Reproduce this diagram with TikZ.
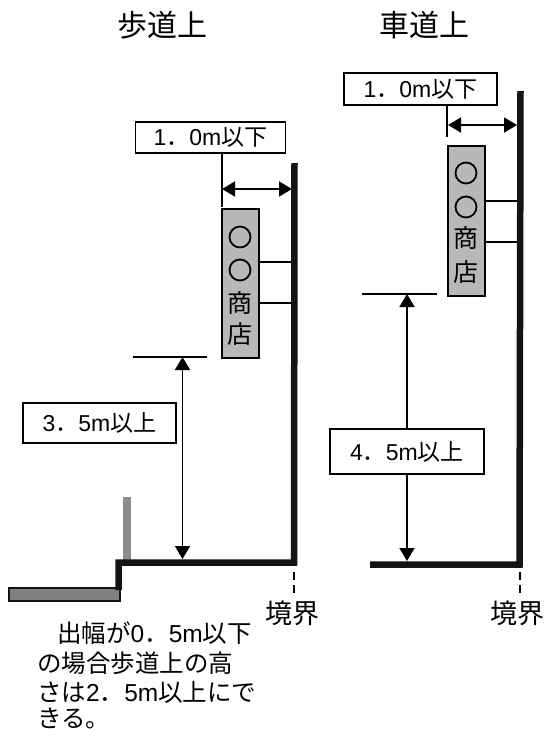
\documentclass[tikz,border=0pt]{standalone}
\usepackage{fontspec}
\setmainfont{Liberation Sans}
\newfontfamily\cjk{Noto Sans CJK JP}
\newcommand{\jp}[1]{{\cjk #1}}
\usetikzlibrary{arrows.meta}
\definecolor{signgray}{gray}{0.72}
\definecolor{walldark}{gray}{0.08}
\tikzset{
  dimbox/.style={draw,line width=1.7pt,fill=white,inner sep=0pt,font=\fontsize{23}{23}\selectfont},
  signbox/.style={draw,line width=1.7pt,fill=signgray,minimum width=37pt,inner sep=0pt,anchor=north west},
  signtext/.style={inner sep=0pt,font=\fontsize{25}{25}\selectfont\cjk},
  ring/.style={circle,draw,line width=1.8pt,minimum size=21pt,inner sep=0pt},
  titletext/.style={inner sep=0pt,font=\fontsize{30}{30}\selectfont\cjk},
  bigtext/.style={inner sep=0pt,font=\fontsize{27}{27}\selectfont\cjk},
  notetext/.style={inner sep=0pt,anchor=west,font=\fontsize{24.5}{24.5}\selectfont},
  wall/.style={line width=6.5pt,draw=walldark},
  thin/.style={line width=1.6pt},
  dimarrow/.style={line width=1.6pt,{Triangle[length=13pt,width=15pt]}-{Triangle[length=13pt,width=15pt]}},
  edge/.style={line width=2pt,dash pattern=on 8pt off 5pt}
}
\begin{document}
\begin{tikzpicture}[x=1pt,y=-1pt]
  \useasboundingbox (0,0) rectangle (544,729);
  % titles
  \node[titletext] (walk) at (162,25) {歩道上};
  \node[titletext] (road) at (424,25) {車道上};
  % sidewalk side
  \coordinate (wtop) at (294.5,163);
  \coordinate (wfoot) at (294,562.5);
  \coordinate (wstep) at (118.5,562.5);
  \coordinate (wlow) at (118.5,590);
  \coordinate (arl) at (222,189);
  \coordinate (arr) at (292,189);
  \coordinate (hang) at (222,207);
  \coordinate (lvla) at (133,357);
  \coordinate (lvlb) at (207,357);
  \coordinate (lvlm) at (182.5,357);
  \coordinate (gndm) at (182.5,559);
  \coordinate (posta) at (127,497);
  \coordinate (postb) at (127,560);
  \coordinate (eda) at (294,572);
  \coordinate (edb) at (294,593);
  \fill[draw=walldark,line width=2pt,fill=black!50] (9,588) rectangle (120,601);
  \draw[line width=8pt,draw=black!45] (posta) to (postb);
  \draw[wall,line join=miter] (wtop) -- (wfoot) -- (wstep) -- (wlow);
  \node[signbox,minimum height=149pt] (sign) at (221,208) {};
  \node[ring] (c1) at (240,237) {};
  \node[ring] (c2) at (240,270) {};
  \node[signtext] (s1) at (239.5,303) {商};
  \node[signtext] (s2) at (239.5,334) {店};
  \coordinate (arma) at (sign.east |- 0,262);
  \coordinate (armb) at (291,262);
  \coordinate (armc) at (sign.east |- 0,303);
  \coordinate (armd) at (291,303);
  \draw[thin] (arma) to (armb);
  \draw[thin] (armc) to (armd);
  \node[dimbox,minimum width=150pt,minimum height=31pt] (top1) at (210.5,137.5) {1\jp{．}0m\jp{以下}};
  \coordinate (topleg) at (top1.south -| hang);
  \draw[thin] (topleg) to (hang);
  \draw[dimarrow] (arl) to (arr);
  \draw[thin] (lvla) to (lvlb);
  \draw[dimarrow] (lvlm) to (gndm);
  \node[dimbox,minimum width=153pt,minimum height=40pt] (min1) at (99.5,423) {3\jp{．}5m\jp{以上}};
  \draw[edge] (eda) to (edb);
  \node[bigtext] (bd1) at (292,613) {境界};
  % note
  \node[notetext] (n1) at (57,633) {\jp{出幅が}0\jp{．}5m\jp{以下}};
  \node[notetext] (n2) at (37,663) {\jp{の場合歩道上の高}};
  \node[notetext] (n3) at (37,692) {\jp{さは}2\jp{．}5m\jp{以上にで}};
  \node[notetext] (n4) at (37,718) {\jp{きる。}};
  % roadway side
  \coordinate (vtop) at (520.5,91);
  \coordinate (vfoot) at (519.5,564.5);
  \coordinate (vend) at (370,564.5);
  \coordinate (brl) at (448,125);
  \coordinate (brr) at (517,125);
  \coordinate (vhang) at (447,137);
  \coordinate (mlva) at (362,294);
  \coordinate (mlvb) at (437,294);
  \coordinate (mlvm) at (407,294);
  \coordinate (rndm) at (407,561);
  \coordinate (fda) at (520,572);
  \coordinate (fdb) at (520,593);
  \draw[wall,line join=miter] (vtop) -- (vfoot) -- (vend);
  \node[signbox,minimum height=150pt] (vsign) at (447,145) {};
  \node[ring] (d1) at (466,173) {};
  \node[ring] (d2) at (466,207) {};
  \node[signtext] (t1) at (466,238) {商};
  \node[signtext] (t2) at (466,272) {店};
  \coordinate (brma) at (vsign.east |- 0,201);
  \coordinate (brmb) at (517,201);
  \coordinate (brmc) at (vsign.east |- 0,242);
  \coordinate (brmd) at (517,242);
  \draw[thin] (brma) to (brmb);
  \draw[thin] (brmc) to (brmd);
  \node[dimbox,minimum width=153pt,minimum height=32pt] (top2) at (420.5,89) {1\jp{．}0m\jp{以下}};
  \coordinate (vleg) at (top2.south -| vhang);
  \draw[thin] (vleg) to (vhang);
  \draw[dimarrow] (brl) to (brr);
  \draw[thin] (mlva) to (mlvb);
  \draw[dimarrow] (mlvm) to (rndm);
  \node[dimbox,minimum width=154pt,minimum height=45pt] (min2) at (407,451.5) {4\jp{．}5m\jp{以上}};
  \draw[edge] (fda) to (fdb);
  \node[bigtext] (bd2) at (517,613) {境界};
\end{tikzpicture}
\end{document}
